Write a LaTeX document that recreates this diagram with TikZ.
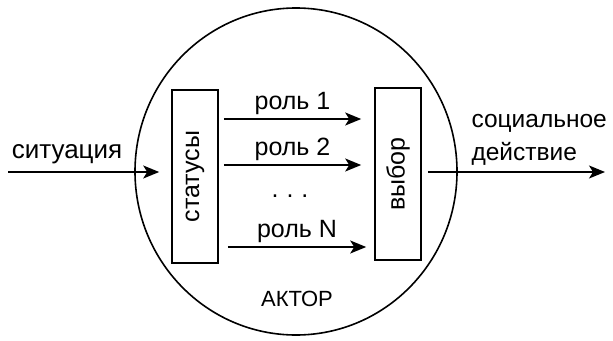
\documentclass[tikz,border=0pt]{standalone}
\usepackage{fontspec}
\setmainfont{Liberation Sans}
\usetikzlibrary{shapes.geometric,arrows.meta}

\begin{document}
\begin{tikzpicture}
  [x=1pt, y=-1pt,
  every node/.style={font=\fontsize{25}{33}\selectfont},
  line/.style={draw, line width=1.6pt, -{Stealth[length=16pt, width=13pt, inset=4pt]}},
  block/.style={rectangle, draw, line width=1.6pt, minimum width=46pt, inner sep=0pt},
  actor/.style={ellipse, draw, line width=1.6pt, minimum width=322pt, minimum height=327pt, inner sep=0pt}]
  \useasboundingbox (0,0) rectangle (613,340);
  % nodes
  \node [actor] (actor) at (296,171.5) {};
  \node [anchor=base, font=\fontsize{22}{26}\selectfont] (name) at (297,306) {АКТОР};
  \node [block, minimum height=173pt] (status) at (195,176.5) {\rotatebox{90}{статусы}};
  \node [block, minimum height=172pt] (choice) at (398,174) {\rotatebox{90}{выбор}};
  \coordinate (in) at (8,172);
  \coordinate (out) at (605,172);
  \node [anchor=base, font=\fontsize{26}{33}\selectfont] (situation) at (67,158) {ситуация};
  \node [anchor=base west, font=\fontsize{24.5}{33}\selectfont] (action1) at (468,127) {социальное};
  \node [anchor=base west, font=\fontsize{24.5}{33}\selectfont] (action2) at (468,160) {действие};
  \node [anchor=base] (dots) at (290,197) {.\hspace{8pt}.\hspace{8pt}.};

  % edges
  \path [line] (in) -- ([xshift=-12pt]status.west |- in);
  \path [line] ([xshift=5pt]status.east |- 0,119) -- node [above] {роль 1} ([xshift=-13pt]choice.west |- 0,119);
  \path [line] ([xshift=5pt]status.east |- 0,165) -- node [above] {роль 2} ([xshift=-13pt]choice.west |- 0,165);
  \path [line] ([xshift=9pt]status.east |- 0,247) -- node [above] {роль N} ([xshift=-8pt]choice.west |- 0,247);
  \path [line] ([xshift=6pt]choice.east |- out) -- (out);

\end{tikzpicture}
\end{document}
